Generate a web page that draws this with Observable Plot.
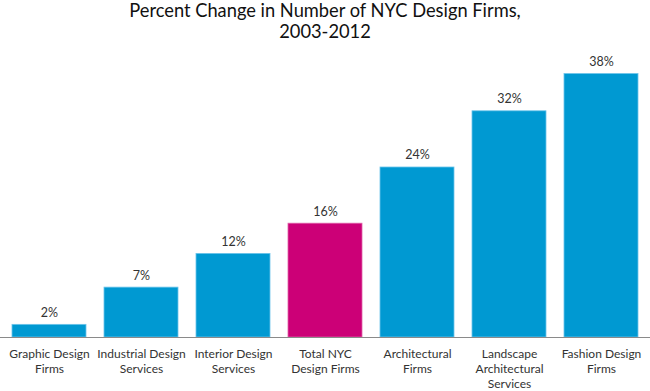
<!DOCTYPE html>
<html>
<head>
<meta charset="utf-8">
<script src="https://cdn.jsdelivr.net/npm/d3@7"></script>
<script src="https://cdn.jsdelivr.net/npm/@observablehq/plot@0.6"></script>
<style>
  body { margin: 0; background: #fff; font-family: Lato, "Noto Sans", sans-serif; }
  #title { width: 650px; height: 46px; text-align: center; font-size: 18.3px; line-height: 21px; color: #111; }
  #chart svg { display: block; }
</style>
</head>
<body>
<div id="title">Percent Change in Number of NYC Design Firms,<br>2003-2012</div>
<div id="chart"></div>
<script>
const categories = ["Graphic Design Firms", "Industrial Design Services", "Interior Design Services", "Total NYC Design Firms", "Architectural Firms", "Landscape Architectural Services", "Fashion Design Firms"];
const tickLabels = ["Graphic Design\nFirms", "Industrial Design\nServices", "Interior Design\nServices", "Total NYC\nDesign Firms", "Architectural\nFirms", "Landscape\nArchitectural\nServices", "Fashion Design\nFirms"];
const values = [1.8, 7.1, 11.9, 16.2, 24.2, 32.2, 37.5];
const valueLabels = ["2%", "7%", "12%", "16%", "24%", "32%", "38%"];
const highlight = ["no", "no", "no", "yes", "no", "no", "no"];

const data = categories.map((c, i) => ({category: c, value: values[i], label: valueLabels[i], hl: highlight[i]}));
const tickMap = new Map(categories.map((c, i) => [c, tickLabels[i]]));

const chart = Plot.plot({
  width: 650,
  height: 345,
  marginLeft: 0,
  marginRight: 0,
  marginTop: 10,
  marginBottom: 54,
  style: {fontFamily: "Lato, 'Noto Sans', sans-serif", background: "#fff"},
  x: {domain: categories, paddingInner: 0.2, paddingOuter: 0.1, label: null},
  y: {domain: [0, 40], axis: null},
  color: {domain: ["no", "yes"], range: ["#0099D2", "#CC0077"]},
  marks: [
    Plot.barY(data, {x: "category", y: "value", fill: "hl", stroke: d => d.hl === "yes" ? "#e060a8" : "#6cc4ea", strokeWidth: 0.8}),
    Plot.ruleY([0], {stroke: "#8a8a8a", strokeWidth: 1}),
    Plot.text(data, {x: "category", y: "value", text: "label", lineAnchor: "bottom", dy: -8, fontSize: 12.5, fill: "#333"}),
    Plot.axisX({tickSize: 0, tickPadding: 10, fontSize: 12, fill: "#333", lineHeight: 1.25, tickFormat: d => tickMap.get(d), label: null})
  ]
});
document.getElementById("chart").appendChild(chart);
</script>
</body>
</html>
